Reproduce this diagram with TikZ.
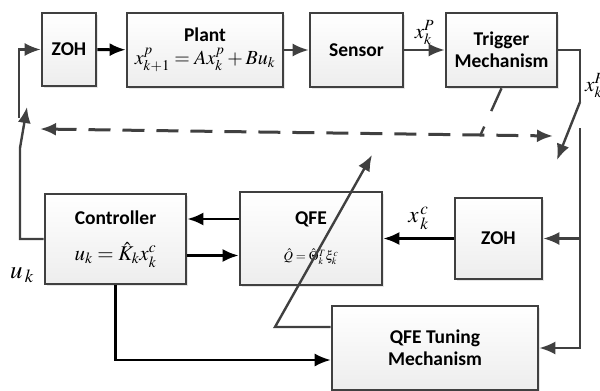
\documentclass[tikz,border=0pt]{standalone}
\usepackage{amsmath}
\usepackage[no-math]{fontspec}
\usepackage{mathptmx}
\setmainfont{Carlito}
\usetikzlibrary{arrows.meta,positioning,calc,shadows}
\definecolor{lineg}{HTML}{404040}

\begin{document}
\begin{tikzpicture}[
    x=1pt, y=-1pt,
    blk/.style={draw=lineg, line width=2.6pt, top color=white, bottom color=gray!14,
        drop shadow={opacity=0.2, shadow xshift=2pt, shadow yshift=-2pt},
        align=center, font=\fontsize{19.5}{22}\selectfont\bfseries, inner sep=0pt},
    gline/.style={draw=lineg, line width=2.4pt},
    garrow/.style={gline, -{Latex[length=16pt,width=13pt]}},
    barrow/.style={draw=black, line width=2.8pt, -{Latex[length=16pt,width=13pt]}},
    lbl/.style={font=\fontsize{21}{24}\selectfont, inner sep=0pt}
]
    \useasboundingbox (0,0) rectangle (600,391);

    % top row
    \node[blk, minimum width=54pt, minimum height=73pt] (zohA) at (69,49.5) {ZOH};
    \node[blk, minimum width=156pt, minimum height=74pt] (plant) at (205,50)
        {Plant\\[1pt] \mdseries\fontsize{20}{22}\selectfont $x^{p}_{k+1}=Ax^{p}_{k}+Bu_{k}$};
    \node[blk, minimum width=93pt, minimum height=74pt] (sensor) at (356.5,50) {Sensor};
    \node[blk, minimum width=111pt, minimum height=74pt] (trig) at (501.5,50) {Trigger\\Mechanism};

    % bottom row
    \node[blk, minimum width=141pt, minimum height=90pt] (ctrl) at (115.5,239)
        {Controller\\[14pt] \mdseries\fontsize{21}{22}\selectfont $u_{k}=\hat{K}_{k}x^{c}_{k}$};
    \node[blk, minimum width=142pt, minimum height=93pt] (qfe) at (311,238.5)
        {QFE\\[14pt] \mdseries\fontsize{13}{15}\selectfont $\hat{Q}=\hat{\Theta}^{T}_{k}\xi^{c}_{k}$};
    \node[blk, minimum width=87pt, minimum height=81pt] (zohB) at (498.5,238.5) {ZOH};
    \node[blk, minimum width=206pt, minimum height=84pt] (tune) at (435,348) {QFE Tuning\\Mechanism};

    % switch points and bends
    \coordinate (swL1) at (20,148);
    \coordinate (swL2) at (27,107);
    \coordinate (swL3) at (19,118);
    \coordinate (swR1) at (580,102);
    \coordinate (swR2) at (557,160);
    \coordinate (busTop) at (580,128);
    \coordinate (dL) at (40,129);
    \coordinate (dR) at (553,136);
    \coordinate (tk) at (480,136);
    \coordinate (tunK) at (275,327);
    \coordinate (tunTip) at (372,155);

    % forward path
    \draw[barrow] (zohA) -- (plant);
    \draw[garrow] (plant) -- (sensor);
    \draw[garrow] (sensor) -- node[lbl, above=4pt] {$x^{P}_{k}$} (trig);
    \draw[gline] (trig.east) -| (swR1);
    \draw[garrow] (swR1) -- (swR2);
    \node[lbl, anchor=west] (xpR) at (585,86) {$x^{P}_{k}$};

    % controller side
    \draw[garrow] (busTop) |- (tune.east);
    \draw[garrow] (zohB.east -| busTop) -- (zohB.east);
    \draw[barrow] (zohB) -- node[lbl, above=7pt, font=\fontsize{23}{24}\selectfont] {$x^{\,c}_{\,k}$} (qfe);
    \draw[barrow] ([yshift=19.5pt]qfe.west) -- ([yshift=19.5pt]qfe.west -| ctrl.east);
    \draw[barrow] ([yshift=-16.5pt]ctrl.east) -- ([yshift=-16.5pt]ctrl.east -| qfe.west);
    \draw[barrow, line width=2.2pt] (ctrl.south) |- ([yshift=-12pt]tune.west);
    \draw[garrow] (ctrl.west) -| (swL1) -- (swL2);
    \draw[garrow] (swL3) |- (zohA.west);
    \node[lbl, font=\fontsize{25}{26}\selectfont] (uk) at (22,275) {$u_{\,k}$};

    % network and tuning
    \draw[gline, line width=3pt, dash pattern=on 22pt off 12pt, {Latex[length=16pt,width=13pt]}-{Latex[length=16pt,width=13pt]}] (dL) -- (dR);
    \draw[gline, dash pattern=on 25pt off 17pt] (trig.south) -- (tk);
    \draw[garrow] ([yshift=21pt]tune.west) -- (tunK) -- (tunTip);
\end{tikzpicture}
\end{document}
